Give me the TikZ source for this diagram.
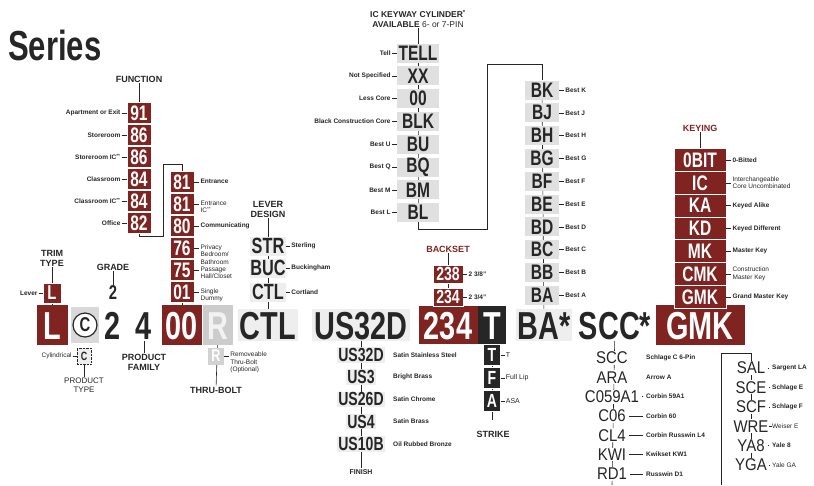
\documentclass[tikz,border=0pt]{standalone}
\usepackage{fontspec}
\setmainfont{Liberation Sans}
\newfontfamily\narrowfont{Liberation Sans}[FakeStretch=0.74]
\newfontfamily\midfont{Liberation Sans}[FakeStretch=0.88]
\usetikzlibrary{positioning}
\definecolor{maroon1}{RGB}{128, 36, 34}
\definecolor{ink1}{RGB}{38, 38, 38}
\definecolor{grey1}{RGB}{224, 224, 224}
\definecolor{grey2}{RGB}{238, 238, 238}
\pgfdeclarelayer{back}
\pgfsetlayers{back,main}
\tikzset{
  bigcode/.style={font=\narrowfont\bfseries\fontsize{39}{39}\selectfont, text=ink1, text height=28pt, text depth=0pt, inner sep=2pt},
  bigred/.style={bigcode, fill=maroon1, text=white, minimum height=40pt},
  redbox/.style={fill=maroon1, draw=white, line width=0.8pt, text=white, font=\narrowfont\bfseries\fontsize{21}{21}\selectfont, inner sep=0pt, minimum height=21pt},
  greybox/.style={fill=grey1, text=ink1, font=\narrowfont\bfseries\fontsize{21}{21}\selectfont, inner sep=0pt, minimum height=19pt},
  darkbox/.style={fill=ink1, draw=white, text=white, font=\narrowfont\bfseries\fontsize{19}{19}\selectfont, inner sep=0pt, minimum width=17pt, minimum height=21pt},
  plaincode/.style={font=\midfont\fontsize{17}{17}\selectfont, text=ink1, fill=white, inner sep=1pt},
  tag/.style={font=\fontsize{6.5}{7.5}\selectfont, text=ink1, align=left, inner sep=1pt},
  btag/.style={tag, font=\bfseries\fontsize{6.5}{7.5}\selectfont},
  head/.style={font=\bfseries\fontsize{9}{10}\selectfont, text=ink1, align=center, inner sep=1pt},
  link/.style={draw=ink1, line width=0.6pt}
}

\begin{document}
\begin{tikzpicture}[x=1pt, y=-1pt]
  \useasboundingbox (0,0) rectangle (814,485);

  \node[anchor=base west, text=ink1, inner sep=0pt, font=\narrowfont\bfseries\fontsize{42}{42}\selectfont] (series) at (8,60) {Series};

  % the model number
  \node[bigred, minimum width=31pt] (mL) at (52,325) {L};
  \node[fill=gray!30, minimum width=28pt, minimum height=36pt] (mC) at (85,325) {};
  \node[circle, draw=ink1, line width=1.2pt, fill=white, inner sep=0pt, minimum size=24pt, text=ink1, font=\narrowfont\bfseries\fontsize{20}{20}\selectfont] (mCring) at (mC) {C};
  \node[bigcode] (m2) at (113,325) {2};
  \node[bigcode] (m4) at (144,325) {4};
  \node[bigred, minimum width=40pt] (m00) at (182,325) {00};
  \node[bigcode, fill=gray!40, text=gray!10, minimum width=30pt, minimum height=40pt] (mR) at (218,325) {R};
  \node[bigcode, fill=grey2] (mCTL) at (268,325) {CTL};
  \node[bigcode, fill=grey2] (mUS) at (361,325) {US32D};
  \node[bigred, minimum width=59pt, minimum height=38pt] (m234) at (448,325) {234};
  \node[bigcode, fill=ink1, text=white, minimum width=28pt, minimum height=38pt] (mT) at (492,325) {T};
  \node[bigcode, fill=grey2] (mBA) at (544,325) {BA*};
  \node[bigcode] (mSCC) at (615,325) {SCC*};
  \node[bigred, minimum width=89pt] (mGMK) at (700,325) {GMK};

  % trim type and grade
  \node[head] (trimhd) at (52,258) {TRIM\\TYPE};
  \node[redbox, minimum width=18pt, minimum height=20pt, font=\narrowfont\bfseries\fontsize{20}{20}\selectfont] (trimL) at (52,293) {L};
  \node[btag, left=4pt of trimL] (trimlab) {Lever};
  \draw[link] (trimlab) -- (trimL);
  \node[head] (gradehd) at (113,267) {GRADE};
  \node[font=\narrowfont\bfseries\fontsize{20}{20}\selectfont, text=ink1, inner sep=1pt] (grade2) at (113,293) {2};

  % product type, family, thru-bolt
  \node[draw=ink1, densely dotted, fill=grey2, minimum width=14pt, minimum height=16pt, inner sep=0pt, text=ink1, font=\narrowfont\bfseries\fontsize{12}{12}\selectfont] (smC) at (84,356) {C};
  \node[tag, left=4pt of smC] (cyl) {Cylindrical};
  \draw[link] (cyl) -- (smC);
  \node[tag, font=\fontsize{8}{9}\selectfont, align=center] (ptype) at (84,385) {PRODUCT\\TYPE};
  \node[head] (pfam) at (144,362) {PRODUCT\\FAMILY};
  \node[fill=gray!35, text=white, minimum width=16pt, minimum height=17pt, inner sep=0pt, font=\narrowfont\bfseries\fontsize{17}{17}\selectfont] (smR) at (216,356) {R};
  \node[tag, anchor=north west] (rlab) at ([xshift=5pt, yshift=5pt]smR.east) {Removeable\\Thru-Bolt\\(Optional)};
  \draw[link] (smR.east) -- (smR.east -| rlab.west);
  \node[head] (thru) at (216,390) {THRU-BOLT};

  % function
  \node[head] (fnhd) at (139,79) {FUNCTION};
  \foreach \num/\lab/\y [count=\i] in {91/Apartment or Exit/113, 86/Storeroom/135, 86/{Storeroom IC\textsuperscript{**}}/157, 84/Classroom/179, 84/{Classroom IC\textsuperscript{**}}/201, 82/Office/223} {
    \node[redbox, minimum width=24pt] (f\i) at (139,\y) {\num};
    \node[btag, left=5pt of f\i] (fl\i) {\lab};
    \draw[link] (fl\i) -- (f\i);
  }
  \coordinate (fbend1) at (163,236);
  \coordinate (fbend2) at (163,164);
  \foreach \num/\lab/\y [count=\i] in {81/{\bfseries Entrance}/182, 81/{Entrance\\IC\textsuperscript{**}}/204, 80/{\bfseries Communicating}/226, 76/{Privacy\\Bedroom/\\Bathroom}/248, 75/{Passage\\Hall/Closet}/270, 01/{Single\\Dummy}/292} {
    \node[redbox, minimum width=24pt] (g\i) at (182,\y) {\num};
    \node[tag, anchor=north west] (gl\i) at ([xshift=5pt, yshift=4.5pt]g\i.east) {\lab};
    \draw[link] (g\i.east) -- (g\i.east -| gl\i.west);
  }

  % lever design
  \node[head] (lvhd) at (268,209) {LEVER\\DESIGN};
  \foreach \cd/\lab/\y [count=\i] in {STR/Sterling/246, BUC/Buckingham/268, CTL/Cortland/292} {
    \node[greybox, fill=grey2, minimum width=36pt, font=\narrowfont\bfseries\fontsize{22}{22}\selectfont] (lv\i) at (268,\y) {\cd};
    \node[btag, right=4pt of lv\i] (lvl\i) {\lab};
    \draw[link] (lv\i) -- (lvl\i);
  }

  % IC keyway cylinder
  \node[head, font=\bfseries\fontsize{8.5}{9.5}\selectfont] (kwhd) at (418,19) {IC KEYWAY CYLINDER\textsuperscript{*}\\AVAILABLE {\mdseries 6- or 7-PIN}};
  \foreach \cd/\lab [count=\i] in {TELL/Tell, XX/Not Specified, 00/Less Core, BLK/Black Construction Core, BU/Best U, BQ/Best Q, BM/Best M, BL/Best L} {
    \node[greybox, minimum width=42pt] (kc\i) at (418,{53+22.8*(\i-1)}) {\cd};
    \node[btag, left=5pt of kc\i] (kcl\i) {\lab};
    \draw[link] (kcl\i) -- (kc\i);
  }
  \coordinate (kwlow) at (487,229);
  \coordinate (kwhigh) at (487,64);
  \foreach \cd/\lab [count=\i] in {BK/Best K, BJ/Best J, BH/Best H, BG/Best G, BF/Best F, BE/Best E, BD/Best D, BC/Best C, BB/Best B, BA/Best A} {
    \node[greybox, minimum width=34pt] (kd\i) at (542,{90+22.8*(\i-1)}) {\cd};
    \node[btag, right=5pt of kd\i] (kdl\i) {\lab};
    \draw[link] (kd\i) -- (kdl\i);
  }

  % keying
  \node[head, text=maroon1] (kyhd) at (700,128) {KEYING};
  \foreach \cd/\lab [count=\i] in {0BIT/{\bfseries 0-Bitted}, IC/{Interchangeable\\Core Uncombinated}, KA/{\bfseries Keyed Alike}, KD/{\bfseries Keyed Different}, MK/{\bfseries Master Key}, CMK/{Construction\\Master Key}, GMK/{\bfseries Grand Master Key}} {
    \node[redbox, minimum width=52pt, minimum height=22.8pt] (ky\i) at (700,{160+22.8*(\i-1)}) {\cd};
    \node[tag, right=5pt of ky\i] (kyl\i) {\lab};
    \draw[link] (ky\i) -- (kyl\i);
  }

  % backset
  \node[head, text=maroon1] (bshd) at (448,249) {BACKSET};
  \foreach \cd/\lab/\y [count=\i] in {238/{2 3/8"}/274, 234/{2 3/4"}/297} {
    \node[redbox, minimum width=30pt, minimum height=18pt, font=\narrowfont\bfseries\fontsize{19}{19}\selectfont] (bs\i) at (448,\y) {\cd};
    \node[btag, right=4pt of bs\i] (bsl\i) {\lab};
    \draw[link] (bs\i) -- (bsl\i);
  }

  % strike
  \foreach \cd/\lab/\y [count=\i] in {T/T/355, F/Full Lip/378, A/ASA/401} {
    \node[darkbox] (st\i) at (492,\y) {\cd};
    \node[tag, font=\fontsize{7}{8}\selectfont, right=4pt of st\i] (stl\i) {\lab};
    \draw[link] (st\i) -- (stl\i);
  }
  \coordinate (stend) at (492,420);
  \node[head] (sthd) at (493,434) {STRIKE};

  % finish
  \foreach \cd/\lab [count=\i] in {US32D/Satin Stainless Steel, US3/Bright Brass, US26D/Satin Chrome, US4/Satin Brass, US10B/Oil Rubbed Bronze} {
    \node[fill=grey2, inner sep=1pt, text=ink1, font=\narrowfont\bfseries\fontsize{19}{19}\selectfont] (fin\i) at (361,{355+22.2*(\i-1)}) {\cd};
    \node[btag, anchor=west] (finl\i) at (392,{355+22.2*(\i-1)}) {\lab};
  }
  \node[head, font=\bfseries\fontsize{7}{8}\selectfont] (finhd) at (361,472) {FINISH};

  % other keyways
  \foreach \cd/\lab [count=\i] in {SCC/Schlage C 6-Pin, ARA/Arrow A, C059A1/Corbin 59A1, C06/Corbin 60, CL4/Corbin Russwin L4, KWI/Kwikset KW1, RD1/Russwin D1} {
    \node[plaincode] (sc\i) at (612,{358+19.3*(\i-1)}) {\cd};
    \node[btag, anchor=west] (scl\i) at (645,{358+19.3*(\i-1)}) {\lab};
    \ifnum\i>2 \draw[link] ([xshift=2pt]sc\i.east) -- ([xshift=-2pt]scl\i.west); \fi
  }
  \coordinate (scbot) at (612,485);
  \foreach \cd/\lab [count=\i] in {SAL/Sargent LA, SCE/Schlage E, SCF/Schlage F, WRE/{\mdseries Weiser E}, YA8/Yale 8, YGA/{\mdseries Yale GA}} {
    \node[plaincode] (sd\i) at (751,{368+19.4*(\i-1)}) {\cd};
    \node[btag, anchor=west] (sdl\i) at (771,{368+19.4*(\i-1)}) {\lab};
    \draw[link] ([xshift=2pt]sd\i.east) -- ([xshift=-2pt]sdl\i.west);
  }
  \coordinate (sdbot) at (721,485);
  \coordinate (sdtop) at (721,353);

  \begin{pgfonlayer}{back}
    \draw[link] (fnhd) -- (f6.center);
    \draw[link] (f6.center) |- (fbend1) -- (fbend2) -| (g1.north);
    \draw[link] (g1.north) -- (m00.north);
    \draw[link] (trimhd) -- (mL);
    \draw[link] (gradehd) -- (grade2);
    \draw[link] (lvhd) -- (mCTL);
    \draw[link] (smC) -- (ptype);
    \draw[link] (m4) -- (pfam);
    \draw[link] (mR) -- (thru);
    \draw[link] (mUS) -- (finhd);
    \draw[link] (bshd) -- (m234);
    \draw[link] (mT) -- (stend);
    \draw[link] (kwhd) -- (kc8.center) |- (kwlow) -- (kwhigh) -| (kd1.north);
    \draw[link] (kd1) -- (mBA);
    \draw[link] (kyhd) -- (mGMK);
    \draw[link] (mSCC) -- (scbot);
    \draw[link] (sdbot) -- (sdtop) -| (sd1.north);
    \draw[link] (sd1) -- (sd6);
  \end{pgfonlayer}
\end{tikzpicture}
\end{document}
